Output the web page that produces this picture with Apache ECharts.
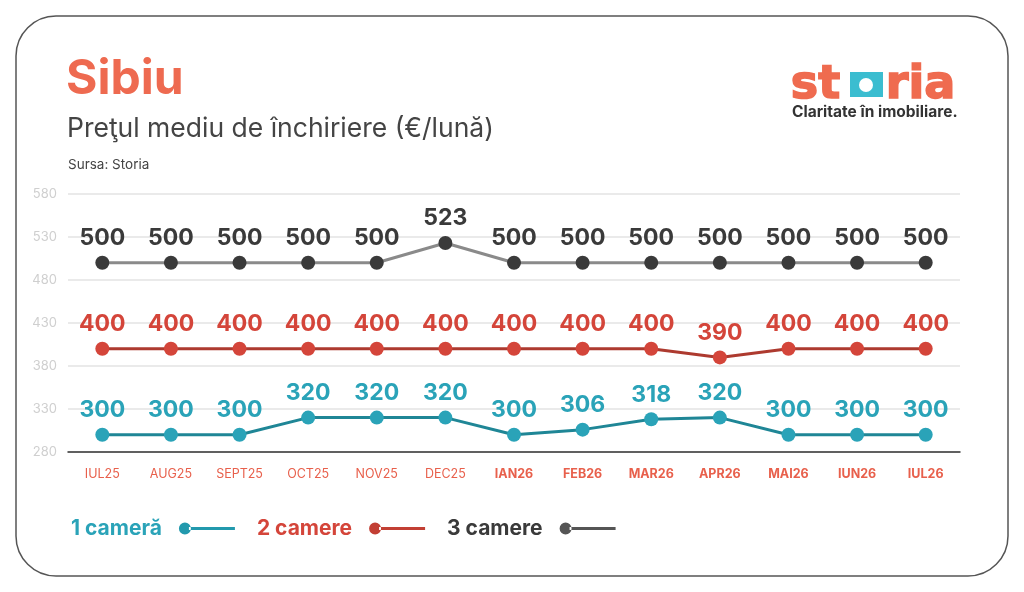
<!DOCTYPE html>
<html>
<head>
<meta charset="utf-8">
<script src="https://cdn.jsdelivr.net/npm/echarts@6/dist/echarts.min.js"></script>
<style>
  html, body { margin: 0; padding: 0; background: #fff; }
  #chart { width: 1024px; height: 592px; }
</style>
</head>
<body>
<div id="chart"></div>
<script>
// luni afisate pe axa
var months = ['IUL25', 'AUG25', 'SEPT25', 'OCT25', 'NOV25', 'DEC25', 'IAN26', 'FEB26', 'MAR26', 'APR26', 'MAI26', 'IUN26', 'IUL26'];

var oneRoom = [300, 300, 300, 320, 320, 320, 300, 306, 318, 320, 300, 300, 300];
var twoRooms = [400, 400, 400, 400, 400, 400, 400, 400, 400, 390, 400, 400, 400];
var threeRooms = [500, 500, 500, 500, 500, 523, 500, 500, 500, 500, 500, 500, 500];

var yMin = 280, yMax = 580, yStep = 50;

var font = 'Inter';
// cerc + linie, ca in legenda originala
var legendIcon = 'path://M0,6 A6,6 0 1,0 12,6 A6,6 0 1,0 0,6 Z M10,4.6 L56,4.6 L56,7.4 L10,7.4 Z';

function lineSeries(name, data, dotColor, lineColor) {
    return {
        name: name,
        type: 'line',
        data: data,
        symbol: 'circle',
        symbolSize: 14,
        lineStyle: { color: lineColor, width: 3 },
        itemStyle: { color: dotColor },
        label: {
            show: true,
            position: 'top',
            distance: 6,
            color: dotColor,
            fontFamily: font,
            fontWeight: 'bold',
            fontSize: 23
        },
        emphasis: { disabled: true },
        z: 3
    };
}

var myChart = echarts.init(document.getElementById('chart'));

var option = {
    backgroundColor: '#fff',
    animation: false,
    title: [
        {
            text: 'Sibiu', left: 66, top: 56, padding: 0,
            textStyle: { color: '#ee6a50', fontFamily: font, fontWeight: 'bold', fontSize: 48 }
        },
        {
            text: 'Preţul mediu de închiriere (€/lună)', left: 67, top: 116, padding: 0,
            textStyle: { color: '#444', fontFamily: font, fontWeight: 'normal', fontSize: 26.5 }
        },
        {
            text: 'Sursa: Storia', left: 68, top: 158, padding: 0,
            textStyle: { color: '#444', fontFamily: font, fontWeight: 'normal', fontSize: 13.5 }
        }
    ],
    legend: {
        left: 66,
        top: 513,
        align: 'right',
        icon: legendIcon,
        itemWidth: 56,
        itemHeight: 13,
        itemGap: 22,
        selectedMode: false,
        textStyle: { fontFamily: font, fontWeight: 'bold', fontSize: 21, padding: [0, 12, 0, 0] },
        data: [
            { name: '1 cameră', itemStyle: { color: '#2299ad' }, textStyle: { color: '#2aa3b8' } },
            { name: '2 camere', itemStyle: { color: '#c23f34' }, textStyle: { color: '#d4453a' } },
            { name: '3 camere', itemStyle: { color: '#555' }, textStyle: { color: '#3a3a3a' } }
        ]
    },
    grid: { left: 68, right: 64, top: 194, bottom: 140 },
    xAxis: {
        type: 'category',
        data: months,
        boundaryGap: true,
        axisLine: { lineStyle: { color: '#333', width: 1.5 } },
        axisTick: { show: false },
        axisLabel: {
            margin: 16,
            interval: 0,
            formatter: function (v) {
                return v.indexOf('26') > 0 ? '{b|' + v + '}' : '{n|' + v + '}';
            },
            rich: {
                n: { color: '#e8604c', fontFamily: font, fontSize: 12.5, fontWeight: 'normal' },
                b: { color: '#e8604c', fontFamily: font, fontSize: 12.5, fontWeight: 'bold' }
            }
        }
    },
    yAxis: {
        type: 'value',
        min: yMin,
        max: yMax,
        interval: yStep,
        axisLine: { show: false },
        axisTick: { show: false },
        axisLabel: { color: '#cfcfcf', fontFamily: font, fontSize: 13, margin: 11 },
        splitLine: { lineStyle: { color: '#e3e3e3', width: 1.5 } }
    },
    series: [
        lineSeries('1 cameră', oneRoom, '#2aa3b8', '#1f8696'),
        lineSeries('2 camere', twoRooms, '#d4453a', '#ad3a2f'),
        lineSeries('3 camere', threeRooms, '#3a3a3a', '#8a8a8a')
    ],
    graphic: [
        {
            type: 'rect', silent: true, z: -1,
            shape: { x: 16, y: 16, width: 992, height: 560, r: 40 },
            style: { fill: 'none', stroke: '#555', lineWidth: 1.5 }
        },
        // logo storia
        {
            type: 'text', left: 790, top: 62,
            style: { text: 'st', fill: '#ef6b4f', stroke: '#ef6b4f', lineWidth: 1.6, font: 'bold 46px "DejaVu Sans"' }
        },
        {
            type: 'rect', shape: { x: 850, y: 72, width: 33, height: 25 },
            style: { fill: '#3bbdd0' }
        },
        {
            type: 'circle', shape: { cx: 866, cy: 85, r: 7 },
            style: { fill: '#fff' }
        },
        {
            type: 'text', left: 885, top: 62,
            style: { text: 'ria', fill: '#ef6b4f', stroke: '#ef6b4f', lineWidth: 1.6, font: 'bold 46px "DejaVu Sans"' }
        },
        {
            type: 'text', left: 792, top: 104,
            style: { text: 'Claritate în imobiliare.', fill: '#333', font: 'bold 15.5px Inter' }
        }
    ]
};
myChart.setOption(option);
</script>
</body>
</html>
